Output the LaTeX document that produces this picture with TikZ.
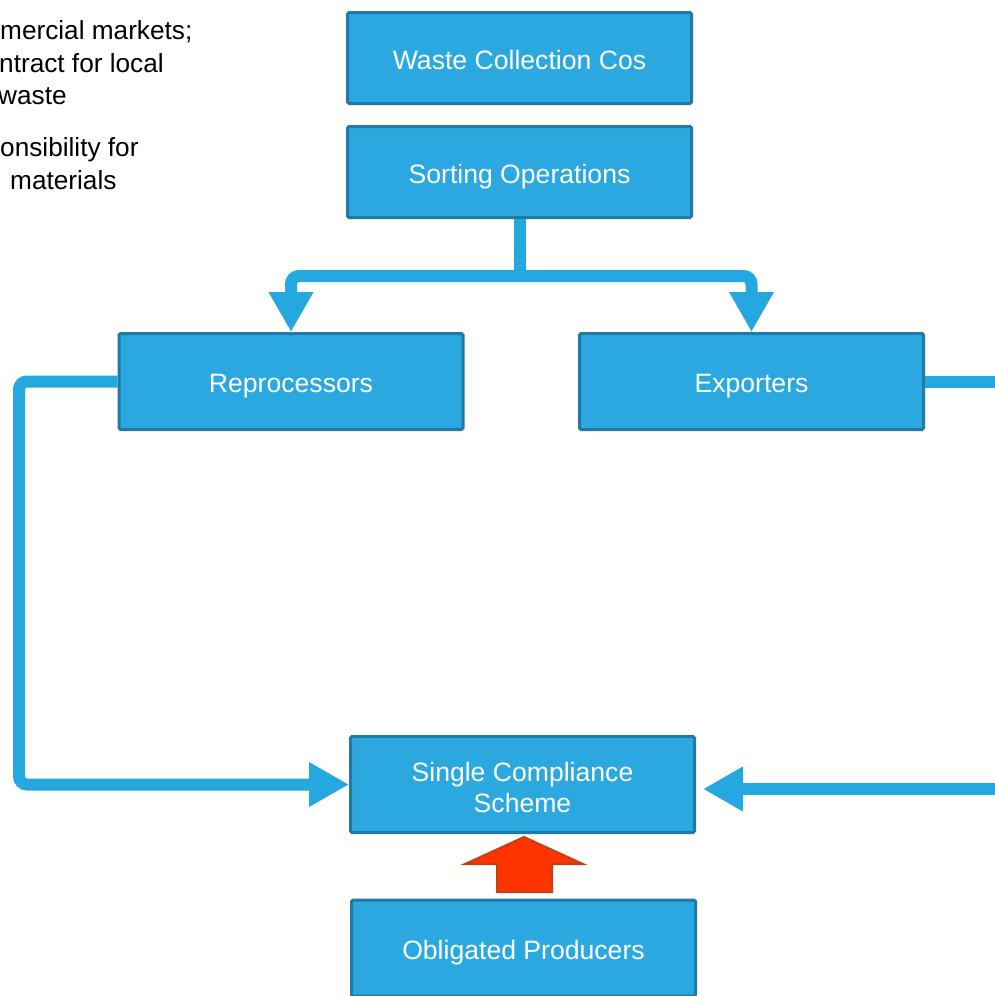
\documentclass[tikz,border=0pt]{standalone}
\usepackage{fontspec}
\setmainfont{Liberation Sans}
\usetikzlibrary{arrows.meta,calc}
\definecolor{boxfill}{HTML}{2CA8E0}
\definecolor{boxline}{HTML}{1F7BA6}
\definecolor{connblue}{HTML}{25A7DF}
\definecolor{redfill}{HTML}{FF3300}
\definecolor{redline}{HTML}{C4400F}
\tikzset{
  bluebox/.style={draw=boxline, fill=boxfill, line width=3pt, rounded corners=1.5pt,
    minimum width=344pt, inner sep=0pt, text=white, align=center,
    text height=22pt, text depth=0pt,
    font=\fontsize{26.6}{31}\selectfont},
  conn/.style={draw=connblue, line width=12pt, rounded corners=8pt},
  bighead/.style={-{Triangle[width=42pt,length=40pt]}},
  sidetext/.style={anchor=base west, inner sep=0pt, font=\fontsize{26.2}{31}\selectfont, text=black}
}
\begin{document}
\begin{tikzpicture}[x=1pt,y=-1pt]
\useasboundingbox (0,0) rectangle (995,996);
\clip (0,0) rectangle (995,996);
% side text (cut by the picture edge)
\node[sidetext] (t1) at (0,39) {mercial markets;};
\node[sidetext] (t2) at (-1,72) {ntract for local};
\node[sidetext] (t3) at (-2,104) {waste};
\node[sidetext] (t4) at (0,156) {onsibility for};
\node[sidetext] (t5) at (10,189) {materials};
% boxes
\node[bluebox, minimum height=91pt] (wcc) at (519.5,58) {Waste Collection Cos};
\node[bluebox, minimum height=91pt] (sort) at (519.5,172) {Sorting Operations};
\node[bluebox, minimum height=96pt] (repro) at (291,381.5) {Reprocessors};
\node[bluebox, minimum height=96pt] (exp) at (751.5,381.5) {Exporters};
\node[bluebox, minimum height=96pt, text height=55pt] (scs) at (522.5,784.5) {Single Compliance\\Scheme};
\node[bluebox, minimum height=96pt] (obl) at (523.5,948) {Obligated Producers};
% connectors
\coordinate (j) at (519.5,276);
\coordinate (lc) at (19,381.5);
\coordinate (rout) at (1005,381.5);
\coordinate (rin) at (1005,789);
\draw[conn, rounded corners=0pt] (sort.south) -- ($(j)+(0,6)$);
\draw[conn, {Triangle[width=42pt,length=40pt]}-{Triangle[width=42pt,length=40pt]}] (repro.north) |- (j) -| (exp.north);
\draw[conn, bighead] (repro.west) -- (lc) |- (scs.west);
\draw[conn] (exp.east) -- (rout);
\draw[conn, bighead, shorten >=7pt] (rin) -- (scs.east |- rin);
% red block arrow from producers to scheme
\coordinate (tip) at ($(scs.south)+(1.5,3)$);
\coordinate (sb) at ($(obl.north)+(0,-6.5)$);
\draw[draw=redline, fill=redfill, line width=2pt, line join=miter]
  (tip) -- ($(tip)+(59,27)$) -- ($(tip)+(28,27)$) -- ($(tip |- sb)+(28,0)$)
  -- ($(tip |- sb)+(-27,0)$) -- ($(tip)+(-27,27)$) -- ($(tip)+(-59,27)$) -- cycle;
\end{tikzpicture}
\end{document}
